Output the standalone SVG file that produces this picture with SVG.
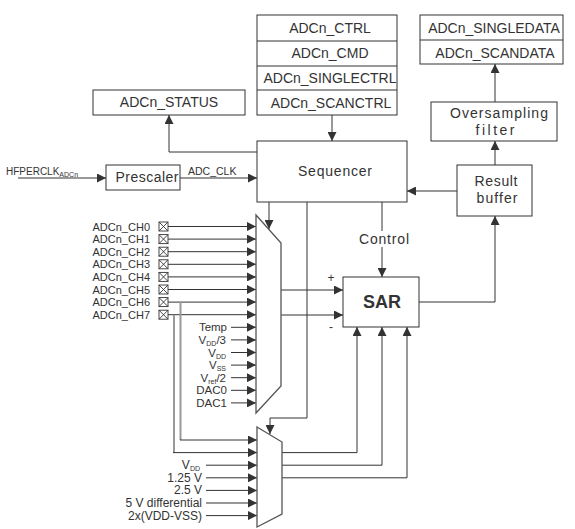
<svg xmlns="http://www.w3.org/2000/svg" width="575" height="529" viewBox="0 0 575 529">
<style>
text{font-family:"Liberation Sans",Arial,sans-serif;fill:#333}
.box{fill:#fff;stroke:#333;stroke-width:1}
.ln{fill:none;stroke:#333;stroke-width:1}
.ar{fill:none;stroke:#333;stroke-width:1;marker-end:url(#ah)}
.gr{fill:none;stroke:#999;stroke-width:2}
.mux{fill:#fff;stroke:#555;stroke-width:1.3}
.t14{font-size:14px;text-anchor:middle}
.ch{font-size:11px;text-anchor:end}
.in{font-size:11.5px;text-anchor:end}
.bt{font-size:12px;text-anchor:end}
.sub{font-size:7px}
.xb{fill:#fff;stroke:#333;stroke-width:0.9}
</style>
<defs>
<marker id="ah" viewBox="0 0 10 10" refX="10" refY="5" markerWidth="9" markerHeight="9" markerUnits="userSpaceOnUse" orient="auto">
<path d="M0,0 L10,5 L0,10 z" fill="#333"/>
</marker>
</defs>
<rect width="575" height="529" fill="#fff"/>

<g id="connectors">
<!-- registers to sequencer -->
<line class="ar" x1="332" y1="115" x2="332" y2="141"/>
<!-- sequencer to status -->
<polyline class="ar" points="257,152 169,152 169,115"/>
<!-- clock -->
<line class="ar" x1="18" y1="178" x2="106" y2="178"/>
<line class="ar" x1="180" y1="178" x2="257" y2="178"/>
<!-- result buffer to sequencer -->
<line class="ar" x1="457" y1="191" x2="407" y2="191"/>
<!-- result buffer to filter, filter to data -->
<line class="ar" x1="495" y1="165" x2="495" y2="141"/>
<line class="ar" x1="495" y1="102" x2="495" y2="64"/>
<!-- SAR to result buffer -->
<polyline class="ar" points="419,302 495,302 495,216"/>
<!-- control -->
<line class="ar" x1="382" y1="202" x2="382" y2="277"/>
<!-- sequencer to mux1 -->
<line class="ar" x1="269" y1="202" x2="269" y2="229"/>
<!-- sequencer to mux2 -->
<polyline class="ar" points="307,202 307,418 270,418 270,434"/>
<!-- mux1 outputs -->
<line class="ar" x1="281" y1="290" x2="343" y2="290"/>
<line class="ar" x1="281" y1="315" x2="343" y2="315"/>
<!-- mux2 outputs -->
<polyline class="ar" points="282,452.6 357,452.6 357,327"/>
<polyline class="ar" points="282,465.2 382,465.2 382,327"/>
<polyline class="ar" points="282,477.8 407,477.8 407,327"/>
<!-- channel inputs -->
<line class="ar" x1="168" y1="226.5" x2="256" y2="226.5"/>
<line class="ar" x1="168" y1="239.1" x2="256" y2="239.1"/>
<line class="ar" x1="168" y1="251.7" x2="256" y2="251.7"/>
<line class="ar" x1="168" y1="264.3" x2="256" y2="264.3"/>
<line class="ar" x1="168" y1="276.9" x2="256" y2="276.9"/>
<line class="ar" x1="168" y1="289.5" x2="256" y2="289.5"/>
<line class="ar" x1="168" y1="302.1" x2="256" y2="302.1"/>
<line class="ar" x1="168" y1="314.7" x2="256" y2="314.7"/>
<line class="ar" x1="231" y1="327.3" x2="256" y2="327.3"/>
<line class="ar" x1="231" y1="339.9" x2="256" y2="339.9"/>
<line class="ar" x1="231" y1="352.5" x2="256" y2="352.5"/>
<line class="ar" x1="231" y1="365.1" x2="256" y2="365.1"/>
<line class="ar" x1="231" y1="377.7" x2="256" y2="377.7"/>
<line class="ar" x1="231" y1="390.3" x2="256" y2="390.3"/>
<line class="ar" x1="231" y1="402.9" x2="256" y2="402.9"/>
<!-- CH6 / CH7 to mux2 -->
<line class="gr" x1="180.5" y1="302.1" x2="180.5" y2="440"/>
<line class="gr" x1="174" y1="314.7" x2="174" y2="452.6"/>
<line class="ar" x1="180" y1="440" x2="257" y2="440"/>
<line class="ar" x1="173" y1="452.6" x2="257" y2="452.6"/>
<!-- mux2 other inputs -->
<line class="ar" x1="206" y1="465.2" x2="257" y2="465.2"/>
<line class="ar" x1="206" y1="477.8" x2="257" y2="477.8"/>
<line class="ar" x1="206" y1="490.4" x2="257" y2="490.4"/>
<line class="ar" x1="206" y1="503" x2="257" y2="503"/>
<line class="ar" x1="206" y1="515.6" x2="257" y2="515.6"/>
<!-- control label backing -->
<rect x="356" y="231" width="54" height="16" fill="#fff"/>
<text x="384" y="244" font-size="14" text-anchor="middle" textLength="50" lengthAdjust="spacing">Control</text>
<text x="331" y="282" font-size="12" text-anchor="middle">+</text>
<text x="331" y="331" font-size="12" text-anchor="middle">-</text>
<text x="188" y="175" font-size="10.5">ADC_CLK</text>
<text x="6" y="175" font-size="10">HFPERCLK<tspan class="sub" font-size="6" dy="1.5">ADCn</tspan></text>
</g>

<g id="registers">
<rect class="box" x="257" y="15" width="140" height="100"/>
<line class="ln" x1="257" y1="41" x2="397" y2="41"/>
<line class="ln" x1="257" y1="66" x2="397" y2="66"/>
<line class="ln" x1="257" y1="90" x2="397" y2="90"/>
<text class="t14" x="330" y="33">ADCn_CTRL</text>
<text class="t14" x="330" y="58">ADCn_CMD</text>
<text class="t14" x="330" y="83">ADCn_SINGLECTRL</text>
<text class="t14" x="331" y="108">ADCn_SCANCTRL</text>
</g>

<g id="data-registers">
<rect class="box" x="420" y="15" width="143" height="49"/>
<line class="ln" x1="420" y1="40" x2="563" y2="40"/>
<text class="t14" x="494" y="33">ADCn_SINGLEDATA</text>
<text class="t14" x="495" y="57.5">ADCn_SCANDATA</text>
</g>

<g id="status">
<rect class="box" x="93" y="90" width="152" height="25"/>
<text class="t14" x="169" y="107">ADCn_STATUS</text>
</g>

<g id="oversampling">
<rect class="box" x="431" y="102" width="126" height="39"/>
<text class="t14" x="499" y="118" textLength="98" lengthAdjust="spacing">Oversampling</text>
<text class="t14" x="495" y="135" textLength="39" lengthAdjust="spacing">filter</text>
</g>

<g id="prescaler">
<rect class="box" x="106" y="165" width="74" height="25"/>
<text class="t14" x="147" y="182" textLength="63" lengthAdjust="spacing">Prescaler</text>
</g>

<g id="sequencer">
<rect class="box" x="257" y="141" width="150" height="61"/>
<text class="t14" x="335" y="176" textLength="74" lengthAdjust="spacing">Sequencer</text>
</g>

<g id="result-buffer">
<rect class="box" x="457" y="165" width="75" height="51"/>
<text class="t14" x="496" y="186" textLength="43" lengthAdjust="spacing">Result</text>
<text class="t14" x="497" y="203" textLength="41" lengthAdjust="spacing">buffer</text>
</g>

<g id="sar">
<rect class="box" x="343" y="277" width="76" height="50"/>
<text x="382" y="308" font-size="18" font-weight="bold" text-anchor="middle">SAR</text>
</g>

<g id="mux1">
<polygon class="mux" points="256,215 281,243 281,386 256,413"/>
</g>

<g id="mux2">
<polygon class="mux" points="257,427 282,442 282,514 257,527"/>
</g>

<g id="channel-pins">
<g class="xb">
<rect x="159" y="222" width="9" height="9"/><path d="M159,222 L168,231 M168,222 L159,231"/>
<rect x="159" y="234.6" width="9" height="9"/><path d="M159,234.6 L168,243.6 M168,234.6 L159,243.6"/>
<rect x="159" y="247.2" width="9" height="9"/><path d="M159,247.2 L168,256.2 M168,247.2 L159,256.2"/>
<rect x="159" y="259.8" width="9" height="9"/><path d="M159,259.8 L168,268.8 M168,259.8 L159,268.8"/>
<rect x="159" y="272.4" width="9" height="9"/><path d="M159,272.4 L168,281.4 M168,272.4 L159,281.4"/>
<rect x="159" y="285" width="9" height="9"/><path d="M159,285 L168,294 M168,285 L159,294"/>
<rect x="159" y="297.6" width="9" height="9"/><path d="M159,297.6 L168,306.6 M168,297.6 L159,306.6"/>
<rect x="159" y="310.2" width="9" height="9"/><path d="M159,310.2 L168,319.2 M168,310.2 L159,319.2"/>
</g>
<text class="ch" x="150" y="230.5">ADCn_CH0</text>
<text class="ch" x="150" y="243.1">ADCn_CH1</text>
<text class="ch" x="150" y="255.7">ADCn_CH2</text>
<text class="ch" x="150" y="268.3">ADCn_CH3</text>
<text class="ch" x="150" y="280.9">ADCn_CH4</text>
<text class="ch" x="150" y="293.5">ADCn_CH5</text>
<text class="ch" x="150" y="306.1">ADCn_CH6</text>
<text class="ch" x="150" y="318.7">ADCn_CH7</text>
</g>

<g id="internal-inputs">
<text class="in" x="227" y="331.3">Temp</text>
<text class="in" x="226" y="343.9">V<tspan class="sub" dy="2">DD</tspan><tspan dy="-2">/3</tspan></text>
<text class="in" x="226" y="356.5">V<tspan class="sub" dy="2">DD</tspan></text>
<text class="in" x="226" y="369.1">V<tspan class="sub" dy="2">SS</tspan></text>
<text class="in" x="226" y="381.7">V<tspan class="sub" dy="2">ref</tspan><tspan dy="-2">/2</tspan></text>
<text class="in" x="227" y="394.3">DAC0</text>
<text class="in" x="227" y="406.9">DAC1</text>
</g>

<g id="reference-inputs">
<text class="bt" x="200" y="469.2">V<tspan class="sub" dy="2">DD</tspan></text>
<text class="bt" x="202" y="481.8">1.25 V</text>
<text class="bt" x="202" y="494.4">2.5 V</text>
<text class="bt" x="202" y="507">5 V differential</text>
<text class="bt" x="202" y="519.6">2x(VDD-VSS)</text>
</g>
</svg>
